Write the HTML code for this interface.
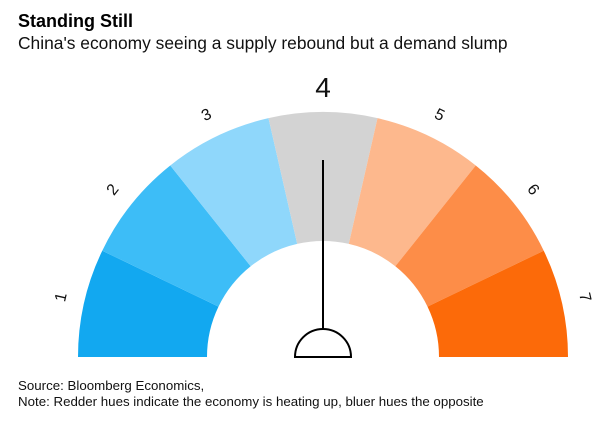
<!DOCTYPE html>
<html><head><style>
html,body{margin:0;padding:0;background:#fff;}
body{width:602px;height:425px;overflow:hidden;font-family:"Liberation Sans",sans-serif;}
</style></head><body>
<svg width="602" height="425" viewBox="0 0 602 425" xmlns="http://www.w3.org/2000/svg" font-family="Liberation Sans, sans-serif">
<rect width="602" height="425" fill="#fff"/>
<text x="18" y="27" font-size="18" font-weight="bold" fill="#000">Standing Still</text>
<text x="18" y="49" font-size="17.4" fill="#111">China's economy seeing a supply rebound but a demand slump</text>
<g stroke="none">
<path d="M78,357 A245,245 0 0 1 102.26,250.70 L218.49,306.67 A116,116 0 0 0 207,357 Z" fill="#12a8f0"/>
<path d="M102.26,250.70 A245,245 0 0 1 170.25,165.45 L250.68,266.31 A116,116 0 0 0 218.49,306.67 Z" fill="#3dbdf7"/>
<path d="M170.25,165.45 A245,245 0 0 1 268.48,118.14 L297.19,243.91 A116,116 0 0 0 250.68,266.31 Z" fill="#8fd7fb"/>
<path d="M268.48,118.14 A245,245 0 0 1 377.52,118.14 L348.81,243.91 A116,116 0 0 0 297.19,243.91 Z" fill="#d3d3d3"/>
<path d="M377.52,118.14 A245,245 0 0 1 475.75,165.45 L395.32,266.31 A116,116 0 0 0 348.81,243.91 Z" fill="#fdb88d"/>
<path d="M475.75,165.45 A245,245 0 0 1 543.74,250.70 L427.51,306.67 A116,116 0 0 0 395.32,266.31 Z" fill="#fd8d48"/>
<path d="M543.74,250.70 A245,245 0 0 1 568,357 L439,357 A116,116 0 0 0 427.51,306.67 Z" fill="#fc6a09"/>
</g>
<line x1="323" y1="160" x2="323" y2="330" stroke="#000" stroke-width="2"/>
<path d="M295,357 A28,28 0 0 1 351,357 Z" fill="#fff" stroke="#000" stroke-width="2"/>
<g font-size="16" fill="#111" text-anchor="middle">
<text transform="translate(60,297) rotate(-77.1)" dy="6">1</text>
<text transform="translate(112,189) rotate(-51.4)" dy="6">2</text>
<text transform="translate(206,114) rotate(-25.7)" dy="6">3</text>
<text x="323" y="97" font-size="28">4</text>
<text transform="translate(440,114) rotate(25.7)" dy="6">5</text>
<text transform="translate(534,189) rotate(51.4)" dy="6">6</text>
<text transform="translate(586,297) rotate(77.1)" dy="6">7</text>
</g>
<text x="18" y="390" font-size="13.3" fill="#111">Source: Bloomberg Economics,</text>
<text x="18" y="406" font-size="13.3" fill="#111">Note: Redder hues indicate the economy is heating up, bluer hues the opposite</text>
</svg>
</body></html>
